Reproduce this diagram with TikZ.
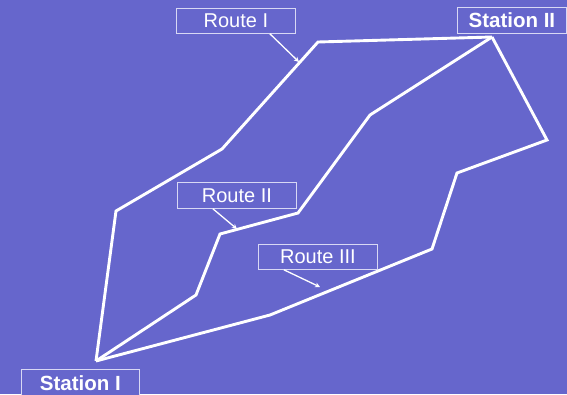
\documentclass[tikz,border=0pt]{standalone}
\usepackage{fontspec}
\setmainfont{Liberation Sans}
\usetikzlibrary{arrows.meta}
\definecolor{bg}{HTML}{6666CC}
\definecolor{boxline}{HTML}{D8D8F4}
\begin{document}
\begin{tikzpicture}[x=1pt,y=-1pt,
  route/.style={white,line width=2.9pt,line join=miter},
  lbl/.style={draw=boxline,line width=0.8pt,fill=bg,text=white,font=\fontsize{20}{22}\selectfont,inner sep=0pt,anchor=north west},
  slbl/.style={lbl,font=\fontsize{20.5}{22}\selectfont\bfseries},
  ptr/.style={white,line width=1.3pt,-{Stealth[length=5pt,width=5pt]}}]
\fill[bg] (0,0) rectangle (567,394);
\useasboundingbox (0,0) rectangle (567,394);
\coordinate (s1) at (96,361);
\coordinate (s2) at (492,37);
% Route I
\draw[route] (s1) -- (116,211) -- (222,149) -- (318,42) -- (s2);
% Route II
\draw[route] (s1) -- (196,295) -- (220,234) -- (298,213) -- (370,115) -- (s2);
% Route III
\draw[route] (s1) -- (270,315) -- (432,249) -- (457,173) -- (547,140) -- (s2);
% labels
\node[lbl,minimum width=119pt,minimum height=25pt] (r1) at (176,8) {Route I};
\node[lbl,minimum width=119pt,minimum height=26pt] (r2) at (177,182) {Route II};
\node[lbl,minimum width=119pt,minimum height=25pt] (r3) at (258,244) {Route III};
\node[slbl,minimum width=109pt,minimum height=26pt] (st2) at (457,7) {Station II};
\node[slbl,minimum width=118pt,minimum height=27pt] (st1) at (21,369) {Station I};
\coordinate (p1) at (299,62);
\coordinate (p2) at (237,229);
\coordinate (p3) at (320,287);
\draw[ptr] (r1.south) ++(34,0) -- (p1);
\draw[ptr] (r2.south) ++(-24,0) -- (p2);
\draw[ptr] (r3.south) ++(-34,0) -- (p3);
\end{tikzpicture}
\end{document}
